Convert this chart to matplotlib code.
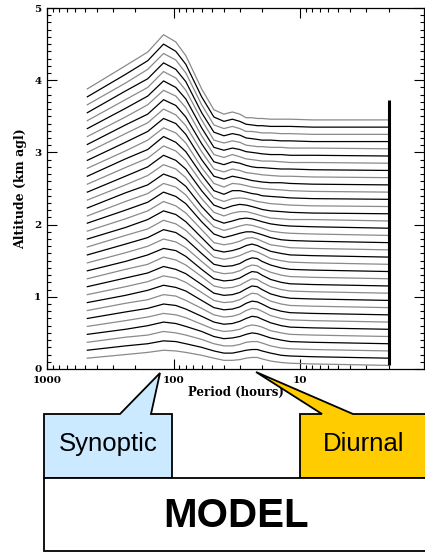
import numpy as np
import matplotlib
matplotlib.use("Agg")
import matplotlib.pyplot as plt
from matplotlib.patches import Polygon
from matplotlib.ticker import LogLocator, MultipleLocator, FixedLocator, NullFormatter

# spectral periods (hours) where each curve was read
periods = [480, 240, 160, 120, 96, 80, 60, 48, 40, 34.3, 30, 26.7, 24, 21.8, 20, 17.1, 14.1, 12, 8, 2]

# baseline altitude of each curve (km agl), bottom to top
altitudes = [0.05, 0.15, 0.25, 0.35, 0.45, 0.55, 0.65, 0.75, 0.85, 0.95,
             1.05, 1.15, 1.25, 1.35, 1.45, 1.55, 1.65, 1.75, 1.85, 1.95,
             2.05, 2.15, 2.25, 2.35, 2.45, 2.55, 2.65, 2.75, 2.85, 2.95,
             3.05, 3.15, 3.25, 3.35, 3.45]

# spectral amplitude (km, above baseline) of each curve at each period
amps = [
    [.10, .15, .18, .21, .20, .18, .14, .10, .07, .07, .08, .10, .11, .11, .09, .06, .04, .03, .02, 0],
    [.11, .17, .20, .24, .23, .20, .15, .10, .07, .07, .09, .11, .12, .12, .10, .07, .04, .03, .02, 0],
    [.12, .19, .22, .27, .25, .22, .16, .10, .07, .07, .09, .12, .13, .13, .11, .07, .04, .03, .02, 0],
    [.13, .20, .25, .30, .28, .24, .17, .10, .07, .08, .10, .13, .15, .14, .12, .08, .05, .03, .02, 0],
    [.14, .22, .27, .32, .30, .26, .17, .10, .07, .08, .10, .14, .16, .15, .13, .08, .05, .03, .02, 0],
    [.15, .24, .29, .35, .33, .28, .18, .10, .07, .08, .11, .15, .18, .17, .14, .09, .05, .03, .02, 0],
    [.16, .26, .31, .38, .36, .30, .19, .10, .07, .08, .11, .16, .19, .18, .15, .09, .05, .03, .02, 0],
    [.17, .27, .34, .41, .38, .33, .20, .10, .07, .08, .11, .16, .19, .18, .15, .09, .05, .03, .02, 0],
    [.18, .29, .36, .44, .41, .35, .21, .10, .07, .08, .11, .16, .20, .19, .15, .09, .05, .03, .02, 0],
    [.19, .31, .38, .47, .43, .37, .22, .10, .07, .08, .11, .16, .20, .19, .15, .09, .05, .03, .02, 0],
    [.20, .33, .40, .50, .46, .39, .23, .10, .07, .08, .11, .16, .20, .19, .15, .09, .05, .03, .02, 0],
    [.21, .34, .43, .52, .49, .41, .23, .10, .07, .08, .11, .16, .20, .19, .15, .09, .05, .03, .02, 0],
    [.22, .36, .45, .55, .51, .43, .24, .10, .07, .08, .11, .16, .19, .18, .14, .09, .05, .03, .02, 0],
    [.23, .38, .47, .58, .54, .45, .25, .10, .07, .08, .11, .16, .19, .18, .14, .09, .05, .03, .02, 0],
    [.24, .40, .49, .61, .56, .47, .26, .10, .07, .09, .12, .16, .19, .17, .14, .08, .05, .03, .02, 0],
    [.25, .41, .52, .64, .59, .49, .27, .10, .07, .09, .12, .16, .18, .16, .13, .08, .05, .03, .02, 0],
    [.26, .43, .54, .67, .61, .51, .28, .10, .07, .09, .12, .16, .17, .15, .12, .07, .05, .03, .02, 0],
    [.27, .45, .56, .70, .64, .54, .29, .12, .07, .10, .13, .15, .15, .13, .11, .07, .04, .03, .02, 0],
    [.27, .47, .58, .72, .67, .56, .29, .12, .07, .10, .13, .15, .14, .12, .10, .06, .04, .03, .02, 0],
    [.28, .49, .60, .75, .69, .58, .30, .12, .07, .10, .13, .14, .13, .11, .09, .06, .04, .03, .02, 0],
    [.29, .50, .63, .78, .72, .60, .31, .12, .07, .11, .13, .13, .11, .09, .07, .04, .03, .02, .02, 0],
    [.30, .52, .65, .81, .74, .62, .32, .12, .07, .11, .13, .12, .10, .08, .06, .04, .03, .02, .01, 0],
    [.31, .54, .67, .84, .77, .64, .33, .12, .07, .11, .12, .11, .09, .07, .06, .04, .03, .02, .01, 0],
    [.32, .56, .69, .87, .79, .66, .34, .12, .07, .12, .12, .10, .08, .07, .05, .04, .03, .02, .01, 0],
    [.33, .57, .72, .89, .82, .68, .34, .12, .07, .12, .11, .09, .07, .06, .05, .04, .03, .02, .01, 0],
    [.34, .59, .74, .92, .85, .70, .35, .12, .08, .12, .10, .08, .06, .05, .04, .03, .03, .02, .01, 0],
    [.35, .61, .76, .95, .87, .72, .36, .12, .08, .12, .10, .07, .06, .05, .04, .03, .02, .02, .01, 0],
    [.36, .63, .78, .98, .90, .74, .37, .12, .08, .12, .10, .07, .05, .04, .04, .03, .02, .02, .01, 0],
    [.37, .64, .81, 1.01, .93, .77, .38, .12, .08, .12, .09, .06, .05, .04, .03, .03, .02, .01, .01, 0],
    [.38, .66, .83, 1.04, .95, .79, .39, .12, .08, .11, .09, .06, .05, .04, .03, .02, .02, .01, .01, 0],
    [.39, .68, .85, 1.07, .98, .81, .40, .12, .08, .11, .09, .05, .04, .03, .03, .02, .02, .01, .01, 0],
    [.40, .70, .87, 1.09, 1.00, .83, .40, .13, .08, .11, .09, .05, .04, .03, .02, .02, .01, .01, 0, 0],
    [.41, .71, .90, 1.12, 1.03, .85, .41, .13, .08, .11, .08, .04, .04, .03, .02, .02, .01, .01, 0, 0],
    [.42, .73, .92, 1.15, 1.05, .87, .42, .14, .08, .11, .08, .04, .03, .02, .02, .01, .01, .01, 0, 0],
    [.43, .75, .94, 1.18, 1.08, .89, .43, .14, .08, .11, .08, .03, .03, .02, .02, .01, .01, .01, 0, 0],
]

# thick spike at the 2 h end
spike_period = 2
spike_top = 3.72

x_ticks = [1000, 100, 10]
x_ticklabels = ["1000", "100", "10"]
y_ticks = [0, 1, 2, 3, 4, 5]

W, H = 425, 552
fig = plt.figure(figsize=(W / 100, H / 100), dpi=100)
ax = fig.add_axes([47 / W, 1 - 369 / H, 377 / W, 361 / H])

for i, (alt, a) in enumerate(zip(altitudes, amps)):
    col = "#8a8a8a" if i % 2 == 0 else "black"
    ax.plot(periods, np.array(a) + alt, color=col, lw=0.9, solid_joinstyle="round")

ax.plot([spike_period, spike_period], [altitudes[0], spike_top], color="black", lw=2.2,
        solid_capstyle="butt")

ax.set_xscale("log")
ax.set_xlim(1000, 1.05)
ax.set_ylim(0, 5)

serif = "DejaVu Serif"
ax.xaxis.set_major_locator(FixedLocator(x_ticks))
ax.set_xticklabels(x_ticklabels, fontfamily=serif, fontweight="bold", fontsize=7.5)
ax.xaxis.set_minor_locator(LogLocator(base=10, subs=np.arange(2, 10)))
ax.xaxis.set_minor_formatter(NullFormatter())
ax.yaxis.set_major_locator(FixedLocator(y_ticks))
ax.set_yticklabels([str(v) for v in y_ticks], fontfamily=serif, fontweight="bold", fontsize=7.5)
ax.yaxis.set_minor_locator(MultipleLocator(0.1))

ax.tick_params(which="both", direction="in", top=True, right=True, width=0.8, color="black")
ax.tick_params(which="major", length=7)
ax.tick_params(which="minor", length=3)
ax.tick_params(axis="x", which="major", pad=5)
ax.tick_params(axis="y", which="major", pad=4)
for s in ax.spines.values():
    s.set_linewidth(0.9)

ax.set_xlabel("Period (hours)", fontfamily=serif, fontweight="bold", fontsize=8.5, labelpad=1)
ax.set_ylabel("Altitude (km agl)", fontfamily=serif, fontweight="bold", fontsize=9, labelpad=5)

# callout boxes drawn in pixel space
ov = fig.add_axes([0, 0, 1, 1], zorder=5)
ov.set_xlim(0, W)
ov.set_ylim(H, 0)
ov.axis("off")
ov.patch.set_alpha(0)

syn = [(44, 478), (44, 414), (120, 414), (160, 373), (151, 414), (172, 414), (172, 478)]
diu = [(300, 478), (300, 414), (322, 414), (256, 372), (353, 414), (428, 414), (428, 478)]
mod = [(44, 478), (428, 478), (428, 551), (44, 551)]
ov.add_patch(Polygon(syn, closed=True, facecolor="#cceaff", edgecolor="black", lw=1.3, joinstyle="miter"))
ov.add_patch(Polygon(diu, closed=True, facecolor="#ffcc00", edgecolor="black", lw=1.3, joinstyle="miter"))
ov.add_patch(Polygon(mod, closed=True, facecolor="white", edgecolor="black", lw=1.3, joinstyle="miter"))

sans = "Liberation Sans"
ov.text(108, 444, "Synoptic", ha="center", va="center", fontsize=18.5, fontfamily=sans)
ov.text(364, 444, "Diurnal", ha="center", va="center", fontsize=18.5, fontfamily=sans)
ov.text(236, 516, "MODEL", ha="center", va="center", fontsize=29, fontfamily=sans, fontweight="bold")

fig.savefig("out.png", dpi=100)
